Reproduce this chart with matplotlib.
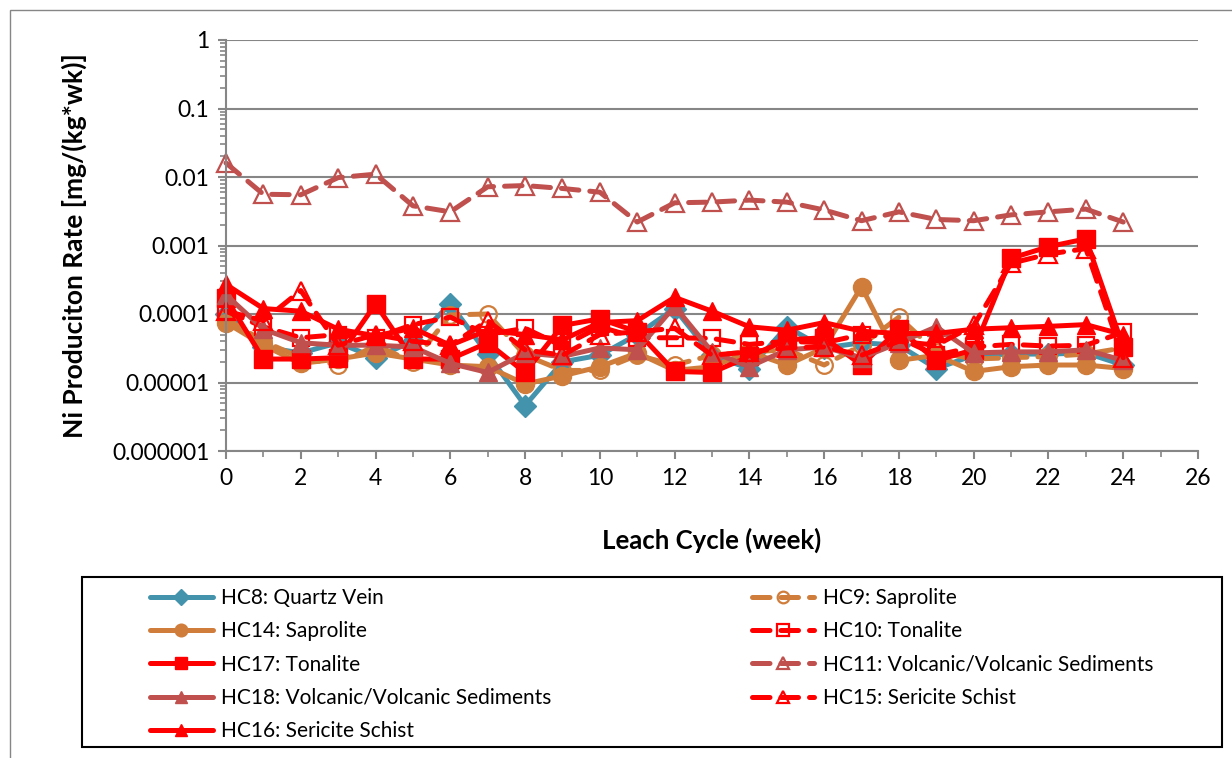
import numpy as np
import matplotlib
matplotlib.use("Agg")
import matplotlib.pyplot as plt
from matplotlib.ticker import FixedLocator, FixedFormatter, MultipleLocator, LogLocator, NullFormatter
from matplotlib.patches import Rectangle

plt.rcParams["font.family"] = ["Lato", "DejaVu Sans"]

# Leach cycles (weeks)
weeks = np.arange(0, 25)

# Ni production rate, mg/(kg*wk)
hc8 = [1.0e-4, 3.3e-5, 2.7e-5, 3.8e-5, 2.3e-5, 4.0e-5, 1.4e-4, 2.6e-5, 4.6e-6, 2.0e-5,
       2.5e-5, 5.0e-5, 1.2e-4, 2.5e-5, 1.6e-5, 6.5e-5, 3.2e-5, 3.8e-5, 3.5e-5, 1.6e-5,
       2.5e-5, 2.6e-5, 2.6e-5, 2.7e-5, 1.8e-5]
hc9 = [8.5e-5, 4.0e-5, 2.3e-5, 1.8e-5, 3.5e-5, 2.0e-5, 9.7e-5, 1.0e-4, 2.5e-5, 1.5e-5,
       1.5e-5, 2.5e-5, 1.8e-5, 2.5e-5, 2.8e-5, 3.0e-5, 1.8e-5, 3.5e-5, 9.0e-5, 2.8e-5,
       2.2e-5, 2.3e-5, 2.4e-5, 2.6e-5, 3.2e-5]
hc14 = [7.5e-5, 3.5e-5, 1.9e-5, 2.2e-5, 2.7e-5, 2.2e-5, 1.8e-5, 1.7e-5, 9.5e-6, 1.25e-5,
        1.7e-5, 2.7e-5, 1.5e-5, 1.7e-5, 2.8e-5, 1.8e-5, 3.2e-5, 2.5e-4, 2.1e-5, 2.5e-5,
        1.45e-5, 1.7e-5, 1.8e-5, 1.8e-5, 1.6e-5]
hc10 = [1.1e-4, 6.5e-5, 4.5e-5, 5.0e-5, 4.5e-5, 7.0e-5, 9.0e-5, 5.0e-5, 6.2e-5, 3.4e-5,
        6.5e-5, 4.5e-5, 4.5e-5, 4.4e-5, 3.6e-5, 4.0e-5, 3.8e-5, 5.0e-5, 4.5e-5, 2.5e-5,
        3.3e-5, 3.6e-5, 3.4e-5, 3.5e-5, 5.4e-5]
hc17 = [1.7e-4, 2.2e-5, 2.2e-5, 2.3e-5, 1.4e-4, 2.2e-5, 2.2e-5, 3.8e-5, 1.4e-5, 6.8e-5,
        8.5e-5, 5.5e-5, 1.45e-5, 1.4e-5, 2.4e-5, 4.2e-5, 4.5e-5, 1.8e-5, 6.0e-5, 2.1e-5,
        3.0e-5, 6.5e-4, 9.6e-4, 1.25e-3, 3.3e-5]
hc11 = [1.6e-2, 5.6e-3, 5.5e-3, 9.8e-3, 1.1e-2, 3.8e-3, 3.1e-3, 7.2e-3, 7.5e-3, 6.8e-3,
        6.0e-3, 2.2e-3, 4.2e-3, 4.3e-3, 4.6e-3, 4.3e-3, 3.3e-3, 2.3e-3, 3.1e-3, 2.4e-3,
        2.3e-3, 2.8e-3, 3.1e-3, 3.4e-3, 2.2e-3]
hc18 = [1.9e-4, 6.0e-5, 3.8e-5, 3.5e-5, 3.5e-5, 3.3e-5, 1.9e-5, 1.4e-5, 2.7e-5, 2.4e-5,
        3.2e-5, 3.0e-5, 1.3e-4, 2.8e-5, 1.7e-5, 3.0e-5, 3.3e-5, 2.3e-5, 3.8e-5, 6.5e-5,
        2.7e-5, 2.8e-5, 2.8e-5, 3.0e-5, 2.1e-5]
hc15 = [1.1e-4, 8.0e-5, 2.2e-4, 3.5e-5, 5.0e-5, 4.0e-5, 3.5e-5, 8.0e-5, 3.0e-5, 2.5e-5,
        5.0e-5, 5.5e-5, 6.2e-5, 2.5e-5, 2.8e-5, 3.2e-5, 3.3e-5, 2.5e-5, 4.0e-5, 3.5e-5,
        6.8e-5, 5.5e-4, 7.5e-4, 9.0e-4, 2.3e-5]
hc16 = [2.7e-4, 1.2e-4, 1.1e-4, 6.0e-5, 4.8e-5, 6.2e-5, 3.5e-5, 5.8e-5, 5.0e-5, 4.2e-5,
        7.5e-5, 8.0e-5, 1.75e-4, 1.1e-4, 6.5e-5, 5.8e-5, 7.5e-5, 5.6e-5, 5.2e-5, 5.2e-5,
        6.0e-5, 6.3e-5, 6.6e-5, 7.0e-5, 5.0e-5]

teal = "#4393AC"
orange = "#D07D3C"
dkred = "#C0504D"
red = "#FF0000"

fig = plt.figure(figsize=(12.32, 7.58), dpi=100)
ax = fig.add_axes([226 / 1232, 1 - 451 / 758, (1198 - 226) / 1232, (451 - 40) / 758])

lw = 3.6
dash = (3.5, 2.2)

def solid(y, color, marker, ms, label):
    ax.plot(weeks, y, color=color, lw=lw, marker=marker, ms=ms, mfc=color, mec=color,
            solid_joinstyle="round", solid_capstyle="round", label=label, clip_on=False)

def dashed(y, color, marker, ms, label):
    ax.plot(weeks, y, color=color, lw=lw, marker=marker, ms=ms, mfc="none", mec=color, mew=1.6,
            linestyle=(0, dash), dash_capstyle="round", dash_joinstyle="round",
            label=label, clip_on=False)

# series order as in the source workbook
solid(hc8, teal, "D", 11, "HC8: Quartz Vein")
dashed(hc9, orange, "o", 12, "HC9: Saprolite")
solid(hc14, orange, "o", 13, "HC14: Saprolite")
dashed(hc10, red, "s", 12, "HC10: Tonalite")
solid(hc17, red, "s", 13, "HC17: Tonalite")
dashed(hc11, dkred, "^", 13, "HC11: Volcanic/Volcanic Sediments")
solid(hc18, dkred, "^", 13, "HC18: Volcanic/Volcanic Sediments")
dashed(hc15, red, "^", 13, "HC15: Sericite Schist")
solid(hc16, red, "^", 13, "HC16: Sericite Schist")

ax.set_yscale("log")
ax.set_ylim(1e-6, 1)
ax.set_xlim(0, 26)

ydec = [1e-6, 1e-5, 1e-4, 1e-3, 1e-2, 1e-1, 1]
ylabels = ["0.000001", "0.00001", "0.0001", "0.001", "0.01", "0.1", "1"]
ax.yaxis.set_major_locator(FixedLocator(ydec))
ax.yaxis.set_major_formatter(FixedFormatter(ylabels))
ax.yaxis.set_minor_locator(LogLocator(base=10, subs=np.arange(2, 10), numticks=20))
ax.yaxis.set_minor_formatter(NullFormatter())
ax.xaxis.set_major_locator(MultipleLocator(2))
ax.xaxis.set_minor_locator(MultipleLocator(1))

for s in ["top", "right"]:
    ax.spines[s].set_visible(False)
for s in ["left", "bottom"]:
    ax.spines[s].set_color("#868686")
    ax.spines[s].set_linewidth(1.5)
ax.grid(True, which="major", axis="y", color="#868686", lw=1.5)
ax.set_axisbelow(True)
ax.tick_params(which="major", direction="out", length=6, width=1.5, color="#868686",
               labelsize=16.5, pad=6)
ax.tick_params(which="minor", direction="out", length=4, width=1.2, color="#868686")

ax.set_xlabel("Leach Cycle (week)", fontsize=18.5, fontweight="bold", labelpad=28)
ax.set_ylabel("Ni Produciton Rate [mg/(kg*wk)]", fontsize=19, fontweight="bold", labelpad=18)

# legend: two columns filled row by row like the source
handles, labels = ax.get_legend_handles_labels()
order = [0, 2, 4, 6, 8, 1, 3, 5, 7]
fig.legend([handles[i] for i in order], [labels[i] for i in order], ncol=2,
           loc="upper left", mode="expand", frameon=False,
           bbox_to_anchor=(150 / 1232, 1 - 600 / 758, (1153 - 150) / 1232, 12 / 758),
           fontsize=15, handlelength=3.0, handletextpad=0.4, labelspacing=0.64,
           borderpad=0, borderaxespad=0, columnspacing=1.0, markerscale=0.7)

fig.patches.append(Rectangle((82 / 1232, 1 - 747 / 758), (1222 - 82) / 1232, (747 - 577) / 758,
                             transform=fig.transFigure, fill=False, ec="black", lw=1.5))
fig.patches.append(Rectangle((10 / 1232, -0.1), 1.2, 1 - 10 / 758 + 0.1,
                             transform=fig.transFigure, fill=False, ec="#868686", lw=1.0))

fig.savefig("out.png", dpi=100)
